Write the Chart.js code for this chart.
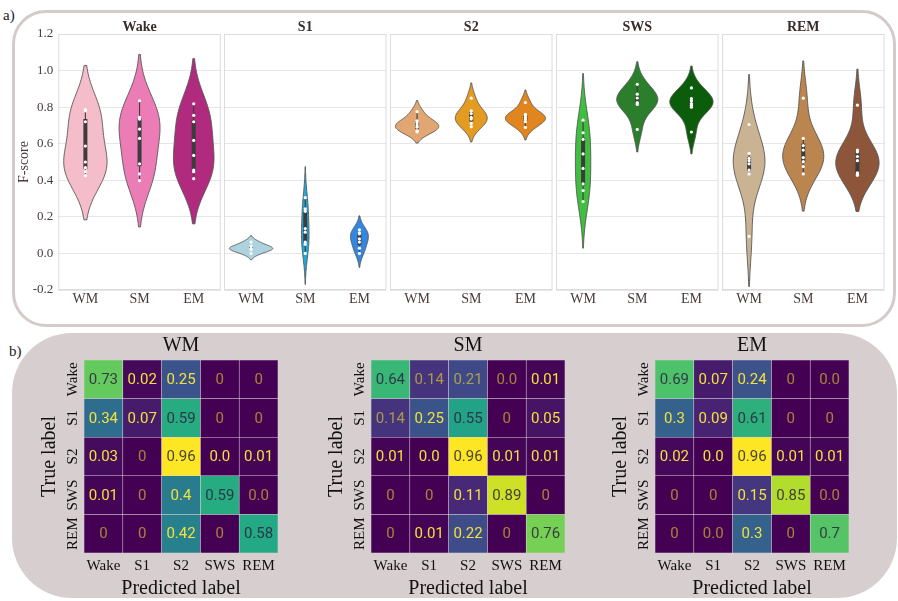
<!DOCTYPE html>
<html>
<head>
<meta charset="utf-8">
<script src="https://cdn.jsdelivr.net/npm/chart.js@4.4.1/dist/chart.umd.min.js"></script>
<style>
  body { margin: 0; background: #fff; }
  #fig { position: relative; width: 898px; height: 601px; overflow: hidden; font-family: 'Liberation Serif', serif; }
  .panelA { position: absolute; left: 12px; top: 10px; width: 878px; height: 311px; border: 3px solid #d4caca; border-radius: 34px; background: #fff; }
  .panelB { position: absolute; left: 12px; top: 333px; width: 885px; height: 265px; background: #d7cfcf; border-radius: 60px; }
  .tag { position: absolute; font-size: 15px; color: #222; }
  canvas { position: absolute; }
</style>
</head>
<body>
<div id="fig">
  <div class="panelA"></div>
  <div class="panelB"></div>
  <div class="tag" style="left:3px;top:7px">a)</div>
  <div class="tag" style="left:9px;top:343px">b)</div>
</div>
<script>
// ---- a) F-scores per model (white dots) ----
const MODELS = ['WM', 'SM', 'EM'];
const STAGES = ['Wake', 'S1', 'S2', 'SWS', 'REM'];

const wakeScores = [
  [0.425, 0.447, 0.469, 0.50, 0.587, 0.72, 0.78, 0.787],
  [0.398, 0.435, 0.49, 0.629, 0.68, 0.735, 0.744, 0.835],
  [0.409, 0.447, 0.456, 0.536, 0.618, 0.72, 0.755, 0.818]
];
const s1Scores = [
  [0.0, 0.022, 0.025, 0.028, 0.04, 0.062],
  [0.0, 0.05, 0.062, 0.116, 0.136, 0.23, 0.244, 0.305],
  [0.0, 0.029, 0.062, 0.08, 0.107, 0.112, 0.129]
];
const s2Scores = [
  [0.665, 0.67, 0.69, 0.70, 0.715, 0.725, 0.775],
  [0.693, 0.711, 0.735, 0.744, 0.765, 0.78, 0.849],
  [0.689, 0.72, 0.733, 0.744, 0.755, 0.76, 0.825]
];
const swsScores = [
  [0.284, 0.344, 0.38, 0.465, 0.544, 0.624, 0.66, 0.729],
  [0.678, 0.815, 0.82, 0.825, 0.85, 0.871, 0.925],
  [0.664, 0.80, 0.811, 0.82, 0.835, 0.847, 0.905]
];
const remScores = [
  [0.093, 0.435, 0.456, 0.49, 0.507, 0.52, 0.547, 0.705],
  [0.435, 0.475, 0.502, 0.524, 0.565, 0.59, 0.629, 0.849],
  [0.427, 0.435, 0.44, 0.507, 0.53, 0.555, 0.565, 0.811]
];
const yTicks = [-0.2, 0.0, 0.2, 0.4, 0.6, 0.8, 1.0, 1.2];

const violinColors = [
  ['#f5bcc9', '#eb7cb6', '#b02b7e'],
  ['#aed3df', '#1fa9dd', '#3486de'],
  ['#e2a672', '#e39c21', '#e1861e'],
  ['#3fbe3f', '#2b7e2b', '#0b5c0b'],
  ['#cab393', '#bb8550', '#8d5539']
];

// ---- b) confusion matrices (rows: true, cols: predicted) ----
const PRED_LABELS = ['Wake', 'S1', 'S2', 'SWS', 'REM'];
const wmMatrix = [
  ['0.73', '0.02', '0.25', '0', '0'],
  ['0.34', '0.07', '0.59', '0', '0'],
  ['0.03', '0', '0.96', '0.0', '0.01'],
  ['0.01', '0', '0.4', '0.59', '0.0'],
  ['0', '0', '0.42', '0', '0.58']
];
const smMatrix = [
  ['0.64', '0.14', '0.21', '0.0', '0.01'],
  ['0.14', '0.25', '0.55', '0', '0.05'],
  ['0.01', '0.0', '0.96', '0.01', '0.01'],
  ['0', '0', '0.11', '0.89', '0'],
  ['0', '0.01', '0.22', '0', '0.76']
];
const emMatrix = [
  ['0.69', '0.07', '0.24', '0', '0.0'],
  ['0.3', '0.09', '0.61', '0', '0'],
  ['0.02', '0.0', '0.96', '0.01', '0.01'],
  ['0', '0', '0.15', '0.85', '0.0'],
  ['0', '0.0', '0.3', '0', '0.7']
];
// which cell texts are faded
const wmFaded = [[0,0,0,1,1],[0,0,0,1,1],[0,1,0,0,0],[0,1,0,0,1],[1,1,0,1,0]];
const smFaded = [[0,1,1,1,0],[1,0,0,1,0],[0,0,0,0,0],[1,1,0,0,1],[1,0,0,1,0]];
const emFaded = [[0,0,0,1,1],[0,0,0,1,1],[0,0,0,0,0],[1,1,0,0,1],[1,1,0,1,0]];

const SERIF = "'Liberation Serif', serif";
const fig = document.getElementById('fig');

function addCanvas(left, top, w, h) {
  const cv = document.createElement('canvas');
  cv.width = w; cv.height = h;
  cv.style.left = left + 'px'; cv.style.top = top + 'px';
  cv.style.width = w + 'px'; cv.style.height = h + 'px';
  fig.appendChild(cv);
  return cv;
}

function pct(s, q) {
  const pos = (s.length - 1) * q, lo = Math.floor(pos), hi = Math.ceil(pos);
  return s[lo] + (s[hi] - s[lo]) * (pos - lo);
}

// gaussian kde, scott bandwidth, cut = 2
function kde(vals) {
  const n = vals.length;
  const mean = vals.reduce((a, b) => a + b, 0) / n;
  const sd = Math.sqrt(vals.reduce((a, b) => a + (b - mean) ** 2, 0) / (n - 1));
  const bw = sd * Math.pow(n, -0.2) * 1.2;
  const lo = Math.min(...vals) - 2 * bw, hi = Math.max(...vals) + 2 * bw;
  const grid = [], dens = [];
  for (let j = 0; j < 100; j++) {
    const g = lo + (hi - lo) * j / 99;
    let d = 0;
    vals.forEach(v => { d += Math.exp(-0.5 * ((g - v) / bw) ** 2); });
    grid.push(g);
    dens.push(d / (n * bw * Math.sqrt(2 * Math.PI)));
  }
  return { grid, dens };
}

function violinPlugin(title, scores, colors) {
  return {
    id: 'violin',
    beforeDatasetsDraw(chart) {
      const { ctx, chartArea: a, scales: { x, y } } = chart;
      const kdes = scores.map(kde);
      const dmax = Math.max(...kdes.map(k => Math.max(...k.dens)));
      const unit = x.getPixelForValue(1) - x.getPixelForValue(0);
      ctx.save();
      ctx.beginPath(); ctx.rect(a.left, a.top, a.width, a.height); ctx.clip();
      kdes.forEach((k, i) => {
        const cx = x.getPixelForValue(i);
        ctx.beginPath();
        k.grid.forEach((g, j) => {
          const px = cx - 0.4 * unit * k.dens[j] / dmax, py = y.getPixelForValue(g);
          j ? ctx.lineTo(px, py) : ctx.moveTo(px, py);
        });
        for (let j = k.grid.length - 1; j >= 0; j--) {
          ctx.lineTo(cx + 0.4 * unit * k.dens[j] / dmax, y.getPixelForValue(k.grid[j]));
        }
        ctx.closePath();
        ctx.fillStyle = colors[i]; ctx.fill();
        ctx.strokeStyle = '#555'; ctx.lineWidth = 0.9; ctx.stroke();

        // inner box
        const s = [...scores[i]].sort((p, q) => p - q);
        const q1 = pct(s, 0.25), q3 = pct(s, 0.75), iqr = q3 - q1;
        const wlo = s.find(v => v >= q1 - 1.5 * iqr);
        const whi = [...s].reverse().find(v => v <= q3 + 1.5 * iqr);
        ctx.strokeStyle = '#3c3c3c';
        ctx.lineWidth = 1.1;
        ctx.beginPath(); ctx.moveTo(cx, y.getPixelForValue(wlo)); ctx.lineTo(cx, y.getPixelForValue(whi)); ctx.stroke();
        ctx.lineWidth = 4;
        ctx.beginPath(); ctx.moveTo(cx, y.getPixelForValue(q1)); ctx.lineTo(cx, y.getPixelForValue(q3)); ctx.stroke();
      });
      ctx.restore();
    },
    afterDraw(chart) {
      const { ctx, chartArea: a } = chart;
      ctx.save();
      ctx.strokeStyle = '#dcdcdc'; ctx.lineWidth = 1;
      ctx.strokeRect(a.left + 0.5, a.top + 0.5, a.width - 1, a.height - 1);
      ctx.fillStyle = '#3a2c2c';
      ctx.font = 'bold 14px ' + SERIF;
      ctx.textAlign = 'center'; ctx.textBaseline = 'middle';
      ctx.fillText(title, (a.left + a.right) / 2, 27);
      ctx.restore();
    }
  };
}

const PLOT_LEFT0 = 58.3, PLOT_STEP = 165.9, PLOT_W = 162.5, Y_AXIS_W = 58.3;
const allScores = [wakeScores, s1Scores, s2Scores, swsScores, remScores];

allScores.forEach((scores, i) => {
  const yw = i === 0 ? Y_AXIS_W : 0;
  const cv = addCanvas(PLOT_LEFT0 + PLOT_STEP * i - yw, 0, Math.ceil(yw + PLOT_W + 1), 312);
  new Chart(cv, {
    type: 'scatter',
    data: {
      datasets: [{
        data: scores.flatMap((s, k) => s.map(v => ({ x: MODELS[k], y: v }))),
        pointRadius: 1.6,
        pointBackgroundColor: '#ffffff',
        pointBorderWidth: 0
      }]
    },
    options: {
      responsive: false,
      animation: false,
      layout: { autoPadding: false, padding: { top: 34, right: cv.width - yw - PLOT_W, left: 0, bottom: 0 } },
      plugins: { legend: { display: false }, tooltip: { enabled: false } },
      scales: {
        x: {
          type: 'category',
          labels: MODELS,
          offset: true,
          grid: { display: false, drawTicks: false },
          border: { display: false },
          ticks: { font: { family: SERIF, size: 14 }, color: '#4a3b3b', padding: 1 },
          afterFit: s => { s.height = 22; }
        },
        y: {
          min: -0.2, max: 1.2,
          afterBuildTicks: s => { s.ticks = yTicks.map(v => ({ value: v })); },
          grid: { color: '#e6e6e6', drawTicks: false },
          border: { display: false },
          ticks: {
            display: i === 0,
            font: { family: SERIF, size: 13 }, color: '#4a3b3b', padding: 5,
            callback: v => Number(v).toFixed(1)
          },
          title: {
            display: i === 0, text: 'F-score',
            font: { family: SERIF, size: 14 }, color: '#4a3b3b',
            padding: { top: 16, bottom: 0 }
          },
          afterFit: s => { s.width = yw; }
        }
      }
    },
    plugins: [violinPlugin(STAGES[i], scores, violinColors[i])]
  });
});

// ---- confusion matrices ----
const VIRIDIS = ['#440154', '#482475', '#414487', '#355f8d', '#2a788e', '#21918c',
                 '#22a884', '#44bf70', '#7ad151', '#bddf26', '#fde725'];
function viridis(t) {
  t = Math.max(0, Math.min(1, t));
  const p = t * 10, i = Math.min(9, Math.floor(p)), f = p - i;
  const c = h => [1, 3, 5].map(o => parseInt(h.substr(o, 2), 16));
  const a = c(VIRIDIS[i]), b = c(VIRIDIS[i + 1]);
  return 'rgb(' + a.map((v, k) => Math.round(v + (b[k] - v) * f)).join(',') + ')';
}

function cmPlugin(title, texts, faded) {
  return {
    id: 'cmtext',
    afterDatasetsDraw(chart) {
      const { ctx, chartArea: a, scales: { x, y } } = chart;
      ctx.save();
      ctx.textAlign = 'center'; ctx.textBaseline = 'middle';
      texts.forEach((row, r) => {
        const cy = y.getPixelForValue(4 - r + 0.5);
        row.forEach((t, c) => {
          const v = parseFloat(t);
          ctx.fillStyle = v > 0.5 ? 'rgba(45,35,65,0.85)' : (faded[r][c] ? 'rgba(253,231,37,0.55)' : '#f2e13c');
          ctx.font = '15px Roboto';
          ctx.fillText(t, x.getPixelForValue(c), cy + 1);
        });
        // row label, rotated
        ctx.save();
        ctx.translate(a.left - 11, cy);
        ctx.rotate(-Math.PI / 2);
        ctx.fillStyle = '#111';
        ctx.font = '15px ' + SERIF;
        ctx.fillText(PRED_LABELS[r], 0, 0);
        ctx.restore();
      });
      ctx.fillStyle = '#111';
      ctx.font = '20px ' + SERIF;
      ctx.fillText(title, (a.left + a.right) / 2, a.top - 14);
      ctx.restore();
    }
  };
}

const CM_LEFT = [84, 370.7, 655.3], CM_W = 194, CM_TOP = 30, CM_H = 193, CM_YAXIS = 54;
const matrices = [wmMatrix, smMatrix, emMatrix];
const fadedMasks = [wmFaded, smFaded, emFaded];

matrices.forEach((m, k) => {
  const vals = m.map(r => r.map(parseFloat));
  const vmax = Math.max(...vals.flat());
  const cv = addCanvas(CM_LEFT[k] - CM_YAXIS, 330, CM_YAXIS + CM_W + 16, 271);
  const datasets = [];
  for (let r = 4; r >= 0; r--) {
    datasets.push({
      data: vals[r].map(() => 1),
      backgroundColor: vals[r].map(v => viridis(v / vmax)),
      borderColor: 'rgba(255,255,255,0.12)',
      borderWidth: 0.6,
      borderSkipped: false,
      barPercentage: 1,
      categoryPercentage: 1
    });
  }
  new Chart(cv, {
    type: 'bar',
    data: { labels: PRED_LABELS, datasets },
    options: {
      responsive: false,
      animation: false,
      layout: { padding: { top: CM_TOP, right: 16, left: 0, bottom: 0 } },
      plugins: { legend: { display: false }, tooltip: { enabled: false } },
      scales: {
        x: {
          stacked: true,
          grid: { display: false, drawTicks: false },
          border: { display: false },
          ticks: { font: { family: SERIF, size: 15 }, color: '#111', padding: 4, maxRotation: 0 },
          title: {
            display: true, text: 'Predicted label',
            font: { family: SERIF, size: 20 }, color: '#111',
            padding: { top: 0, bottom: 0 }
          },
          afterFit: s => { s.height = 271 - CM_TOP - CM_H; }
        },
        y: {
          stacked: true, min: 0, max: 5,
          grid: { display: false, drawTicks: false },
          border: { display: false },
          ticks: { display: false },
          title: {
            display: true, text: 'True label',
            font: { family: SERIF, size: 20 }, color: '#111',
            padding: { top: 8, bottom: 0 }
          },
          afterFit: s => { s.width = CM_YAXIS; }
        }
      }
    },
    plugins: [cmPlugin(MODELS[k], m, fadedMasks[k])]
  });
});
</script>
</body>
</html>
